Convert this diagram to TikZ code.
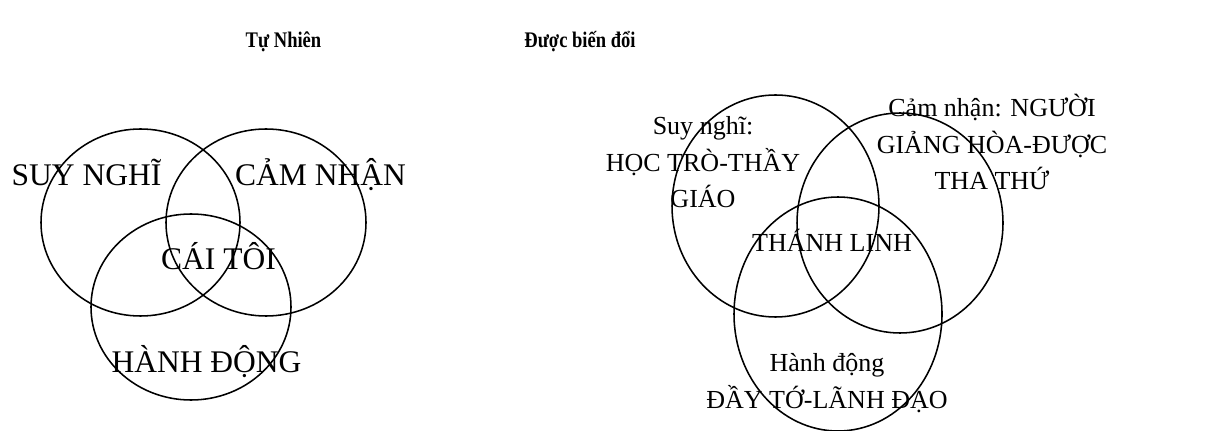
\documentclass[tikz,border=0pt]{standalone}
\usepackage{fontspec}
\usepackage{graphicx}
\setmainfont{Liberation Serif}
\begin{document}
\begin{tikzpicture}[x=0.025cm,y=-0.025cm,line width=1.1pt,
    every node/.style={anchor=base,inner sep=0pt},
    bigtxt/.style={font=\fontsize{22.4}{26}\selectfont},
    smalltxt/.style={font=\fontsize{18.5}{26.3}\selectfont,align=center},
    titletxt/.style={font=\bfseries\fontsize{13.2}{15}\selectfont}]
  \useasboundingbox (0,0) rectangle (1220,431);

  % Tu Nhien
  \draw (140.5,222.5) ellipse [x radius=99.5,y radius=93.5];
  \draw (266,222.5) ellipse [x radius=100,y radius=93.5];
  \draw (191,307) ellipse [x radius=100,y radius=93];

  \node[titletxt] (tn) at (283.5,48) {\scalebox{1}[1.2]{Tự Nhiên}};
  \node[bigtxt] (suy) at (86.5,186) {SUY NGHĨ};
  \node[bigtxt] (cam) at (320.5,186) {CẢM NHẬN};
  \node[bigtxt] (toi) at (218.5,270) {CÁI TÔI};
  \node[bigtxt] (hanh) at (206.5,372) {HÀNH ĐỘNG};

  % Duoc bien doi (base = last line)
  \draw (775.5,206) ellipse [x radius=103.5,y radius=111];
  \draw (900,223) ellipse [x radius=103,y radius=110];
  \draw (838,314) ellipse [x radius=104,y radius=117];

  \node[titletxt] (bd) at (580,48) {\scalebox{1}[1.2]{Được biến đổi}};
  \node[smalltxt] (suy2) at (703,208) {Suy nghĩ:\\HỌC TRÒ-THẦY\\GIÁO};
  \node[smalltxt] (cam2) at (992,190) {Cảm nhận: NGƯỜI\\GIẢNG HÒA-ĐƯỢC\\THA THỨ};
  \node[smalltxt] (linh) at (832,252) {THÁNH LINH};
  \node[smalltxt] (hanh2) at (827,408) {Hành động\\ĐẦY TỚ-LÃNH ĐẠO};
\end{tikzpicture}
\end{document}
